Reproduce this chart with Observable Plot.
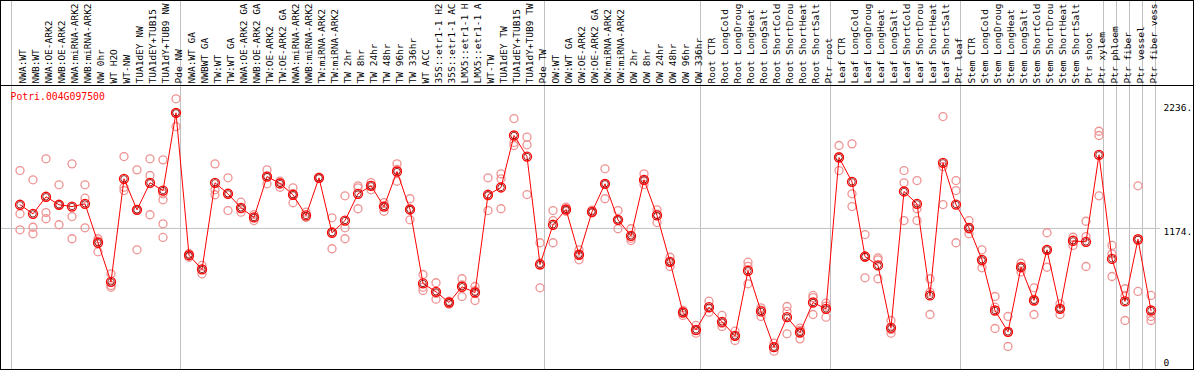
<!DOCTYPE html>
<html><head><meta charset="utf-8">
<script src="https://cdn.jsdelivr.net/npm/d3@7"></script>
<script src="https://cdn.jsdelivr.net/npm/@observablehq/plot@0.6"></script>
<style>
body{margin:0;background:#fff}
#chart svg{display:block;outline:1px solid #000;outline-offset:-1px}
</style></head><body><div id="chart"></div>
<script>
const geneName = "Potri.004G097500";
const categories = [
  "NWA:WT","NWB:WT","NWA:OE-ARK2","NWB:OE-ARK2","NWA:miRNA-ARK2","NWB:miRNA-ARK2","NW 0hr","WT H2O","WT-NW","TUA1dEY NW","TUA1dEY+TUB15","TUA1dY+TUB9 NW","Pde NW",
  "NWA:WT GA","NWBWT GA","TW:WT","TW:WT GA","NWA:OE-ARK2 GA","NWB:OE-ARK2 GA","TW:OE-ARK2","TW:OE-ARK2 GA","NWA:miRNA-ARK2","NWB:miRNA-ARK2","TW:miRNA-ARK2","TW:miRNA-ARK2","TW 2hr","TW 8hr","TW 24hr","TW 48hr","TW 96hr","TW 336hr","WT ACC","35S::etr1-1 H2","35S::etr1-1 AC","LMX5::etr1-1 H","LMX5::etr1-1 A","WT-TW","TUA1dEY TW","TUA1dEY+TUB15","TUA1dY+TUB9 TW","Pde TW",
  "OW:WT","OW:WT GA","OW:OE-ARK2","OW:OE-ARK2 GA","OW:miRNA-ARK2","OW:miRNA-ARK2","OW 2hr","OW 8hr","OW 24hr","OW 48hr","OW 96hr","OW 336hr",
  "Root CTR","Root LongCold","Root LongDroug","Root LongHeat","Root LongSalt","Root ShortCold","Root ShortDrou","Root ShortHeat","Root ShortSalt","Ptr root",
  "Leaf CTR","Leaf LongCold","Leaf LongDroug","Leaf LongHeat","Leaf LongSalt","Leaf ShortCold","Leaf ShortDrou","Leaf ShortHeat","Leaf ShortSalt","Ptr leaf",
  "Stem CTR","Stem LongCold","Stem LongDroug","Stem LongHeat","Stem LongSalt","Stem ShortCold","Stem ShortDrou","Stem ShortHeat","Stem ShortSalt","Ptr shoot","Ptr xylem",
  "Ptr phloem","Ptr fiber","Ptr vessel","Ptr fiber vess"
];
const means = [
  1375,1298,1443,1375,1360,1383,1052,720,1596,1332,1562,1496,2157,
  946,825,1562,1468,1349,1267,1615,1556,1460,1284,1604,1137,1241,1468,1536,1360,1658,1335,706,635,544,678,629,1460,1522,1964,1785,867,
  1205,1335,950,1315,1553,1247,1111,1587,1284,890,459,312,
  504,380,261,814,468,164,419,289,544,490,
  1777,1570,935,859,329,1488,1383,604,1732,1377,
  1179,907,476,295,844,561,992,490,1068,1060,1800,
  915,553,1082,476
];
const replicates = [
  [1666,1298,1162],[1587,1184,1128],[1766,1309,1256],[1545,1205,1375],[1723,1275,1086],[1545,1431,1179],[1086,1066,975],[788,689,674],[1785,1524,1496],[1672,992,1335],[1766,1624,1290],[1757,1468,1417,1213,1097],[2276,2040,2155],
  [961,929,946],[859,788,825],[1723,1502,1460],[1604,1326,1475],[1397,1312,1340],[1292,1241,1267],[1672,1553,1620],[1567,1524,1575],[1519,1392,1470],[1312,1269,1270],[1610,1600,1600],[1264,1001,1146],[1451,1179,1086],[1536,1519,1341],[1564,1502,1540],[1394,1320,1365],[1723,1575,1675],[1426,1247,1330],[782,674,646],[712,572,620],[544,530,555],[746,595,693],[680,561,645],[1604,1326,1450],[1638,1596,1341],[2108,1879,1905],[1950,1885,1462],[1052,669,880],
  [1326,1241,1052],[1355,1335,1320],[992,907,950],[1330,1310,1305],[1681,1426,1552],[1326,1171,1245],[1171,1071,1090],[1638,1547,1580],[1332,1224,1295],[929,850,890],[476,434,465],[349,283,305],
  [555,462,495],[434,340,366],[300,221,262],[887,703,852],[499,425,480],[198,130,164],[510,278,469],[306,235,326],[604,442,586],[538,419,513],
  [1879,1666,1786],[1893,1468,1360],[1122,754,929],[907,746,924],[391,283,313],[1666,1562,1241],[1581,1341,1241],[746,632,442],[2125,1700,1377],[1581,1496,1052],
  [1241,1128,1168],[992,839,890],[595,504,323],[425,170,290],[878,850,804],[669,442,572],[1137,844,995],[533,442,495],[1099,1029,1076],[1235,1105,850],[2000,1964,1451],
  [1029,958,765],[661,604,391],[1536,638,1072],[604,425,391]
];
const groupBreaks = [0,13,41,53,63,73,84,85,86,87,88];
const yTickLabels = [2236, 1174];
const yBottomLabel = [0];
const gridValues = [1174];

const meanData = means.map((v, i) => ({i, v}));
const repData = replicates.flatMap((arr, i) => arr.map(v => ({i, v})));

const font = "'DejaVu Sans Mono', monospace";
const chart = Plot.plot({
  width: 1194, height: 370,
  marginTop: 85, marginBottom: 1, marginLeft: 0, marginRight: 0,
  x: {type: "linear", domain: [0, 87], range: [19.5, 1150.5], axis: null},
  y: {domain: [0, 2236], range: [366, 103], axis: null},
  style: {fontFamily: font, fontSize: "9.5px", background: "#fff", color: "#000"},
  marks: [
    Plot.ruleX(groupBreaks, {x: d => d - 0.5, dx: -2, stroke: "#c0c0c0", strokeWidth: 1, insetTop: -85}),
    Plot.ruleY(gridValues, {y: d => d, stroke: "#c0c0c0", strokeWidth: 1, insetLeft: 1, insetRight: 34}),
    Plot.frame({anchor: "top", stroke: "#000"}),
    Plot.text(categories, {x: (d, i) => i, text: d => d, frameAnchor: "top", rotate: -90, textAnchor: "start", dx: -1, dy: -2, fill: "#000", fontSize: 9.5}),
    Plot.text([geneName], {frameAnchor: "top-left", dx: 10, dy: 14, textAnchor: "start", lineAnchor: "bottom", fill: "#ff0000", fontSize: 9.8}),
    Plot.text(yTickLabels, {y: d => d, text: d => `${d}.`, frameAnchor: "right", dx: -31, dy: 4, textAnchor: "start", fill: "#000", fontSize: 9.5}),
    Plot.text(yBottomLabel, {y: d => d, text: d => `${d}`, frameAnchor: "right", dx: -31, dy: -4, textAnchor: "start", fill: "#000", fontSize: 9.5}),
    Plot.dot(repData, {x: "i", y: "v", r: 4, stroke: "#ee9393", strokeWidth: 1.3, fill: "none"}),
    Plot.line(meanData, {x: "i", y: "v", stroke: "#ff0000", strokeWidth: 1}),
    Plot.dot(meanData, {x: "i", y: "v", r: 4.5, stroke: "#ff0000", strokeWidth: 1.3, fill: "none"}),
    Plot.dot(meanData, {x: "i", y: "v", r: 3.2, stroke: "#7a0000", strokeWidth: 0.8, fill: "none"})
  ]
});
document.getElementById("chart").appendChild(chart);
</script></body></html>
